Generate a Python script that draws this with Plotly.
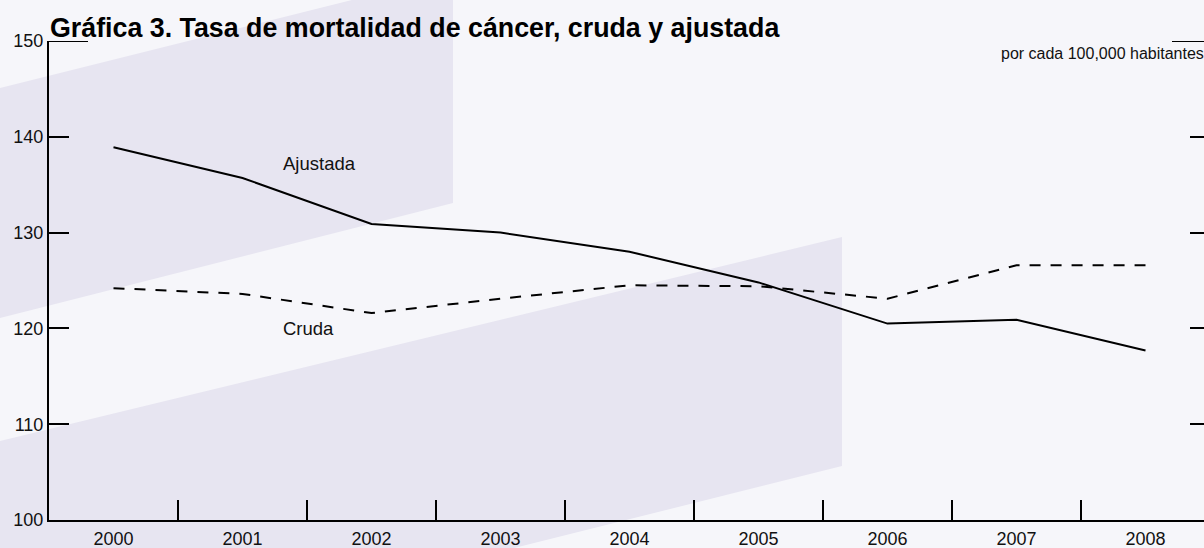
import plotly.graph_objects as go

# datos (tasa por cada 100,000 habitantes)
years = ["2000", "2001", "2002", "2003", "2004", "2005", "2006", "2007", "2008"]
ajustada = [138.9, 135.7, 130.9, 130.0, 128.0, 124.8, 120.5, 120.9, 117.7]
cruda = [124.2, 123.6, 121.6, 123.1, 124.5, 124.4, 123.1, 126.6, 126.6]
y_ticks = [100, 110, 120, 130, 140, 150]

W, H = 1204, 548
L, R, T, B = 49, 0, 41, 28
pw, ph = W - L - R, H - T - B

def px(x):
    return (x - L) / pw

def py(y):
    return (H - B - y) / ph

def path(pts):
    return "M " + " L ".join(f"{px(a):.4f},{py(b):.4f}" for a, b in pts) + " Z"

FONT = "Liberation Sans, Arial, sans-serif"
BG = "#f6f6fa"
BAND = "#e7e5f1"

fig = go.Figure()
fig.add_trace(go.Scatter(x=years, y=ajustada, mode="lines", name="Ajustada",
                         line=dict(color="black", width=2)))
fig.add_trace(go.Scatter(x=years, y=cruda, mode="lines", name="Cruda",
                         line=dict(color="black", width=2, dash="11px,10px")))
# helper trace so the right-hand tick axis is drawn
fig.add_trace(go.Scatter(x=years, y=cruda, yaxis="y2", mode="lines",
                         line=dict(width=0), opacity=0, hoverinfo="skip",
                         showlegend=False))

shapes = [
    dict(type="path", xref="paper", yref="paper", layer="below", line_width=0,
         fillcolor=BAND,
         path=path([(0, 88), (352, 0), (453, 0), (453, 203), (0, 318)])),
    dict(type="path", xref="paper", yref="paper", layer="below", line_width=0,
         fillcolor=BAND,
         path=path([(0, 441), (842, 237), (842, 466), (514, 548), (0, 548)])),
    # longer marks at the top of the scale
    dict(type="line", xref="paper", yref="y", x0=0, x1=px(88), y0=150, y1=150,
         line=dict(color="black", width=2)),
    dict(type="line", xref="paper", yref="y", x0=px(1172), x1=1, y0=150, y1=150,
         line=dict(color="black", width=2)),
]

annotations = [
    dict(text="<b>Gráfica 3. Tasa de mortalidad de cáncer, cruda y ajustada</b>",
         xref="paper", yref="paper", x=px(48), y=py(28), xanchor="left",
         yanchor="middle", showarrow=False, font=dict(size=26.8, color="black")),
    dict(text="por cada 100,000 habitantes", xref="paper", yref="paper",
         x=px(1206), y=py(53), xanchor="right", yanchor="middle",
         showarrow=False, font=dict(size=16, color="#111")),
    dict(text="Ajustada", xref="paper", yref="y", x=px(281), y=137.2,
         xanchor="left", yanchor="middle", showarrow=False,
         font=dict(size=18.5, color="#111")),
    dict(text="Cruda", xref="paper", yref="y", x=px(281), y=120.0,
         xanchor="left", yanchor="middle", showarrow=False,
         font=dict(size=18.5, color="#111")),
]

fig.update_layout(
    width=W, height=H,
    margin=dict(l=L, r=R, t=T, b=B, autoexpand=False),
    paper_bgcolor=BG, plot_bgcolor="rgba(0,0,0,0)",
    font=dict(family=FONT, size=18, color="#111"),
    showlegend=False,
    shapes=shapes,
    annotations=annotations,
    xaxis=dict(type="category", range=[-0.5, 8.5 - 6 / 129],
               showline=True, linecolor="black", linewidth=2,
               ticks="inside", tickson="boundaries", ticklen=20, tickwidth=2,
               tickcolor="black", showgrid=False, zeroline=False,
               automargin=False, ticklabelstandoff=1, tickfont=dict(size=18)),
    yaxis=dict(range=[100, 150], tickvals=y_ticks, showline=True,
               linecolor="black", linewidth=2, ticks="inside", ticklen=20,
               tickwidth=2, tickcolor="black", showgrid=False, zeroline=False,
               automargin=False, tickfont=dict(size=18)),
    yaxis2=dict(range=[100, 150], tickvals=y_ticks, overlaying="y", side="right",
                showline=False, ticks="inside", ticklen=14, tickwidth=2,
                tickcolor="black", showticklabels=False, showgrid=False,
                zeroline=False, automargin=False),
)

fig.write_html("out.html", config={"displayModeBar": False},
               post_script="document.body.style.margin='0';")
